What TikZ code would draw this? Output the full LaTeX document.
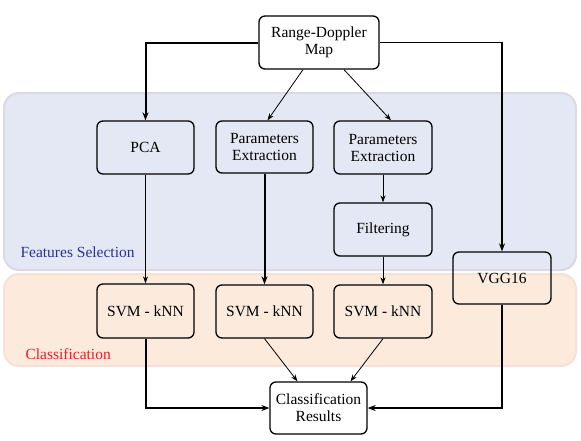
\documentclass[tikz,border=0pt]{standalone}
\usepackage{fontspec}
\setmainfont{Liberation Serif}
\usetikzlibrary{arrows.meta}
\definecolor{bandblue}{HTML}{E4E8F5}
\definecolor{bandblueedge}{HTML}{D9DAE6}
\definecolor{bandorange}{HTML}{FCEBDD}
\definecolor{bandorangeedge}{HTML}{F7E1D6}
\definecolor{fsblue}{HTML}{2E3192}
\definecolor{clred}{HTML}{ED1C24}
\tikzset{
  blk/.style={draw=black, line width=1.3pt, rounded corners=6pt, inner sep=0pt, align=center, font=\fontsize{15.5}{17}\selectfont},
  thin/.style={line width=0.8pt, -{Stealth[length=7pt,width=5pt]}},
  thick/.style={line width=2pt, -{Stealth[length=8pt,width=6pt]}},
}
\begin{document}
\begin{tikzpicture}[x=1pt,y=-1pt]
\useasboundingbox (0,0) rectangle (581,440);
% bands
\draw[fill=bandblue, draw=bandblueedge, line width=2pt, rounded corners=15pt] (4,93) rectangle (576,270);
\draw[fill=bandorange, draw=bandorangeedge, line width=2pt, rounded corners=15pt] (4,274) rectangle (576,366);
\node[text=fsblue, anchor=west, font=\fontsize{15.5}{17}\selectfont] (fs) at (17,252) {Features Selection};
\node[text=clred, anchor=west, font=\fontsize{15.5}{17}\selectfont] (cl) at (22,354) {Classification};
% nodes
\node[blk, fill=white, minimum width=120pt, minimum height=53pt] (rdm) at (319,42.5) {Range-Doppler\\Map};
\node[blk, fill=bandblue, minimum width=97pt, minimum height=53pt] (pca) at (145.5,147.5) {PCA};
\node[blk, fill=bandblue, minimum width=97pt, minimum height=52pt] (pe1) at (264.5,147) {Parameters\\Extraction};
\node[blk, fill=bandblue, minimum width=98pt, minimum height=53pt] (pe2) at (383,147.5) {Parameters\\Extraction};
\node[blk, fill=bandblue, minimum width=98pt, minimum height=53pt] (filt) at (383,229.5) {Filtering};
\node[blk, fill=none, minimum width=98pt, minimum height=52pt] (vgg) at (502,278) {VGG16};
\node[blk, fill=bandorange, minimum width=97pt, minimum height=54pt] (svm1) at (145.5,311) {SVM - kNN};
\node[blk, fill=bandorange, minimum width=97pt, minimum height=53pt] (svm2) at (264.5,311.5) {SVM - kNN};
\node[blk, fill=bandorange, minimum width=98pt, minimum height=53pt] (svm3) at (383,311.5) {SVM - kNN};
\node[blk, fill=white, minimum width=97pt, minimum height=52pt] (cr) at (318.5,408) {Classification\\Results};
% connectors
\draw[thick] (rdm.west) -| (pca.north);
\draw[line width=1.3pt, -{Stealth[length=8pt,width=6pt]}] (rdm.east) -| (vgg.north);
\draw[thin] ([xshift=-16pt]rdm.south) -- ([xshift=3pt]pe1.north);
\draw[thin] ([xshift=25pt]rdm.south) -- ([xshift=8pt]pe2.north);
\draw[thin] (pe2.south) -- (filt.north);
\draw[thin] (filt.south) -- (svm3.north);
\draw[thin] (pca.south) -- (svm1.north);
\draw[thick] (pe1.south) -- (svm2.north);
\draw[thick] (svm1.south) |- (cr.west);
\draw[thick] (vgg.south) |- (cr.east);
\draw[thin] (svm2.south) -- ([xshift=-21pt]cr.north);
\draw[thin] (svm3.south) -- ([xshift=32pt]cr.north);
\end{tikzpicture}
\end{document}
